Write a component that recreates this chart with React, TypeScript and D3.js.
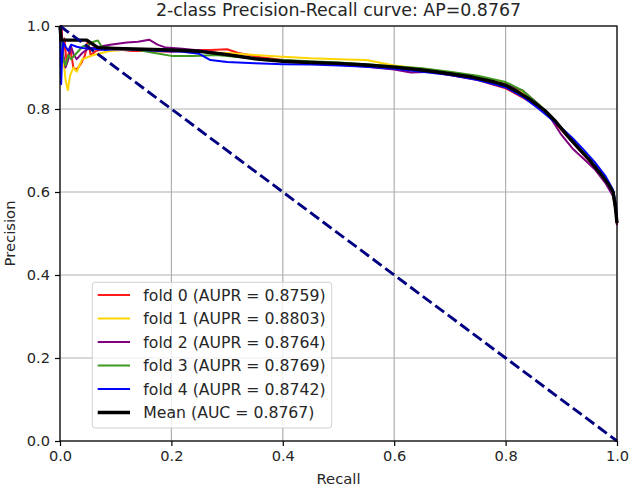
import { useEffect, useRef } from 'react'
import * as d3 from 'd3'

type Pt = [number, number]

// [recall, precision] points
const fold0: Pt[] = [[0, 1.0], [0.003, 1.0], [0.005, 0.93], [0.008, 0.97], [0.012, 0.91], [0.018, 0.95], [0.024, 0.90], [0.03, 0.895], [0.038, 0.91], [0.045, 0.93], [0.05, 0.965], [0.055, 0.93], [0.065, 0.94], [0.08, 0.945], [0.1, 0.944], [0.13, 0.94], [0.16, 0.94], [0.2, 0.938], [0.24, 0.942], [0.27, 0.942], [0.3, 0.944], [0.32, 0.935], [0.36, 0.925], [0.4, 0.918], [0.45, 0.913], [0.5, 0.908], [0.55, 0.905], [0.6, 0.902], [0.65, 0.893], [0.7, 0.882], [0.75, 0.870], [0.8, 0.850], [0.83, 0.828], [0.86, 0.805], [0.88, 0.780], [0.9, 0.75], [0.93, 0.705], [0.95, 0.675], [0.97, 0.642], [0.99, 0.605], [0.997, 0.57], [1.0, 0.52]]
const fold1: Pt[] = [[0, 1.0], [0.003, 0.96], [0.006, 0.92], [0.01, 0.87], [0.014, 0.845], [0.018, 0.88], [0.024, 0.90], [0.03, 0.89], [0.04, 0.92], [0.05, 0.925], [0.06, 0.93], [0.075, 0.935], [0.09, 0.94], [0.12, 0.943], [0.16, 0.942], [0.2, 0.94], [0.25, 0.938], [0.3, 0.935], [0.35, 0.93], [0.4, 0.926], [0.45, 0.922], [0.5, 0.92], [0.55, 0.918], [0.6, 0.905], [0.65, 0.897], [0.7, 0.888], [0.75, 0.878], [0.8, 0.862], [0.83, 0.84], [0.86, 0.81], [0.88, 0.785], [0.9, 0.755], [0.92, 0.722], [0.95, 0.678], [0.97, 0.645], [0.99, 0.607], [0.997, 0.565], [1.0, 0.53]]
const fold2: Pt[] = [[0, 1.0], [0.003, 0.98], [0.006, 0.93], [0.01, 0.90], [0.015, 0.92], [0.02, 0.95], [0.025, 0.93], [0.03, 0.92], [0.04, 0.935], [0.05, 0.945], [0.07, 0.95], [0.09, 0.955], [0.12, 0.96], [0.14, 0.962], [0.16, 0.967], [0.175, 0.955], [0.19, 0.948], [0.22, 0.945], [0.26, 0.94], [0.3, 0.932], [0.35, 0.922], [0.4, 0.915], [0.45, 0.91], [0.5, 0.907], [0.55, 0.902], [0.6, 0.895], [0.63, 0.888], [0.67, 0.89], [0.7, 0.882], [0.75, 0.872], [0.8, 0.86], [0.83, 0.845], [0.86, 0.81], [0.88, 0.78], [0.9, 0.738], [0.92, 0.705], [0.94, 0.68], [0.96, 0.655], [0.98, 0.62], [0.993, 0.59], [0.998, 0.55], [1.0, 0.52]]
const fold3: Pt[] = [[0, 1.0], [0.003, 0.95], [0.006, 0.92], [0.01, 0.905], [0.015, 0.93], [0.02, 0.92], [0.03, 0.935], [0.04, 0.95], [0.05, 0.955], [0.06, 0.962], [0.068, 0.965], [0.075, 0.95], [0.09, 0.947], [0.11, 0.945], [0.14, 0.942], [0.17, 0.935], [0.2, 0.928], [0.24, 0.928], [0.28, 0.93], [0.32, 0.925], [0.36, 0.92], [0.4, 0.918], [0.45, 0.915], [0.5, 0.912], [0.55, 0.908], [0.6, 0.903], [0.65, 0.898], [0.7, 0.89], [0.75, 0.88], [0.8, 0.865], [0.83, 0.845], [0.86, 0.81], [0.88, 0.785], [0.9, 0.752], [0.93, 0.71], [0.95, 0.68], [0.97, 0.647], [0.99, 0.61], [0.997, 0.57], [1.0, 0.53]]
const fold4: Pt[] = [[0, 1.0], [0.002, 0.86], [0.004, 0.93], [0.006, 0.96], [0.01, 0.95], [0.015, 0.94], [0.02, 0.955], [0.03, 0.95], [0.04, 0.947], [0.06, 0.945], [0.08, 0.942], [0.1, 0.944], [0.14, 0.943], [0.18, 0.94], [0.22, 0.938], [0.25, 0.933], [0.27, 0.918], [0.3, 0.913], [0.35, 0.91], [0.4, 0.908], [0.45, 0.907], [0.5, 0.905], [0.55, 0.902], [0.6, 0.897], [0.65, 0.89], [0.7, 0.882], [0.75, 0.87], [0.8, 0.852], [0.83, 0.83], [0.86, 0.8], [0.88, 0.778], [0.9, 0.755], [0.92, 0.73], [0.94, 0.702], [0.96, 0.672], [0.98, 0.637], [0.993, 0.605], [0.998, 0.57], [1.0, 0.53]]
const meanCurve: Pt[] = [[0, 1.0], [0.002, 0.966], [0.048, 0.966], [0.068, 0.948], [0.1, 0.946], [0.15, 0.944], [0.2, 0.942], [0.25, 0.939], [0.3, 0.931], [0.35, 0.921], [0.4, 0.915], [0.45, 0.912], [0.5, 0.910], [0.55, 0.906], [0.6, 0.901], [0.65, 0.894], [0.7, 0.885], [0.74, 0.877], [0.78, 0.865], [0.8, 0.857], [0.82, 0.843], [0.845, 0.822], [0.87, 0.797], [0.89, 0.770], [0.91, 0.737], [0.93, 0.707], [0.95, 0.678], [0.97, 0.645], [0.985, 0.618], [0.993, 0.600], [0.997, 0.565], [1.0, 0.525]]
const diagonal: Pt[] = [[0, 1], [1, 0]]

const foldCurves = [fold0, fold1, fold2, fold3, fold4]
const foldColors = ['#ff1a1a', '#ffd500', '#800080', '#3f9a1f', '#0000ff']
const foldLabels = [
  'fold 0 (AUPR = 0.8759)',
  'fold 1 (AUPR = 0.8803)',
  'fold 2 (AUPR = 0.8764)',
  'fold 3 (AUPR = 0.8769)',
  'fold 4 (AUPR = 0.8742)',
]
const meanLabel = 'Mean (AUC = 0.8767)'
const ticks = [0, 0.2, 0.4, 0.6, 0.8, 1.0]

export default function App() {
  const svgRef = useRef<SVGSVGElement>(null)

  useEffect(() => {
    if (!svgRef.current) return
    const W = 630
    const H = 487
    const margin = { top: 26, right: 13, bottom: 46, left: 60 }
    const width = W - margin.left - margin.right
    const height = H - margin.top - margin.bottom
    const font = 'DejaVu Sans, sans-serif'

    d3.select(svgRef.current).selectAll('*').remove()
    const root = d3.select(svgRef.current).attr('width', W).attr('height', H)
    root.append('rect').attr('width', W).attr('height', H).attr('fill', '#fff')

    const svg = root.append('g').attr('transform', `translate(${margin.left},${margin.top})`)

    const x = d3.scaleLinear().domain([0, 1]).range([0, width])
    const y = d3.scaleLinear().domain([0, 1]).range([height, 0])

    // grid
    svg.append('g').selectAll('line.gx').data(ticks).join('line')
      .attr('x1', d => x(d)).attr('x2', d => x(d)).attr('y1', 0).attr('y2', height)
      .attr('stroke', '#b0b0b0').attr('stroke-width', 1.2)
    svg.append('g').selectAll('line.gy').data(ticks).join('line')
      .attr('y1', d => y(d)).attr('y2', d => y(d)).attr('x1', 0).attr('x2', width)
      .attr('stroke', '#b0b0b0').attr('stroke-width', 1.2)

    const line = d3.line<Pt>().x(d => x(d[0])).y(d => y(d[1]))

    foldCurves.forEach((c, i) => {
      svg.append('path').datum(c).attr('d', line).attr('fill', 'none')
        .attr('stroke', foldColors[i]).attr('stroke-width', 2).attr('stroke-linejoin', 'round')
    })
    svg.append('path').datum(meanCurve).attr('d', line).attr('fill', 'none')
      .attr('stroke', '#000').attr('stroke-width', 3.4).attr('stroke-linejoin', 'round')
    svg.append('path').datum(diagonal).attr('d', line).attr('fill', 'none')
      .attr('stroke', '#000080').attr('stroke-width', 2.9).attr('stroke-dasharray', '11,4.6')

    // axes
    const xAxis = svg.append('g').attr('transform', `translate(0,${height})`)
      .call(d3.axisBottom(x).tickValues(ticks).tickFormat(d3.format('.1f')).tickSize(5).tickPadding(5))
    const yAxis = svg.append('g')
      .call(d3.axisLeft(y).tickValues(ticks).tickFormat(d3.format('.1f')).tickSize(5).tickPadding(5))
    for (const ax of [xAxis, yAxis]) {
      ax.select('.domain').remove()
      ax.selectAll('line').attr('stroke', '#000').attr('stroke-width', 1.2)
      ax.selectAll('text').attr('font-family', font).attr('font-size', '14.6px').attr('fill', '#262626')
    }

    // frame
    svg.append('rect').attr('width', width).attr('height', height)
      .attr('fill', 'none').attr('stroke', '#000').attr('stroke-width', 1.2)

    // legend
    const lg = svg.append('g').attr('transform', `translate(${92.3 - margin.left},${282.3 - margin.top})`)
    lg.append('rect').attr('width', 239.4).attr('height', 145.7).attr('rx', 3)
      .attr('fill', '#fff').attr('fill-opacity', 0.8).attr('stroke', '#d0d0d0')
    const entries = [
      ...foldLabels.map((t, i) => ({ t, c: foldColors[i], w: 2 })),
      { t: meanLabel, c: '#000', w: 3.4 },
    ]
    entries.forEach((e, i) => {
      const cy = 12.7 + i * 23.5
      lg.append('line').attr('x1', 5.4).attr('x2', 37.7).attr('y1', cy).attr('y2', cy)
        .attr('stroke', e.c).attr('stroke-width', e.w)
      lg.append('text').attr('x', 51).attr('y', cy + 5.7).attr('font-family', font)
        .attr('font-size', '15.7px').attr('fill', '#262626').text(e.t)
    })

    // labels
    root.append('text').attr('x', margin.left + width / 2).attr('y', 15.5)
      .attr('text-anchor', 'middle').attr('font-family', font).attr('font-size', '17.4px')
      .attr('fill', '#262626').text('2-class Precision-Recall curve: AP=0.8767')
    root.append('text').attr('x', margin.left + width / 2).attr('y', 484)
      .attr('text-anchor', 'middle').attr('font-family', font).attr('font-size', '14.8px')
      .attr('fill', '#262626').text('Recall')
    root.append('text').attr('transform', `translate(15,${margin.top + height / 2}) rotate(-90)`)
      .attr('text-anchor', 'middle').attr('font-family', font).attr('font-size', '14.8px')
      .attr('fill', '#262626').text('Precision')
  }, [])

  return (
    <div style={{ position: 'absolute', left: 0, top: 0 }}>
      <svg ref={svgRef} style={{ display: 'block' }}></svg>
    </div>
  )
}
